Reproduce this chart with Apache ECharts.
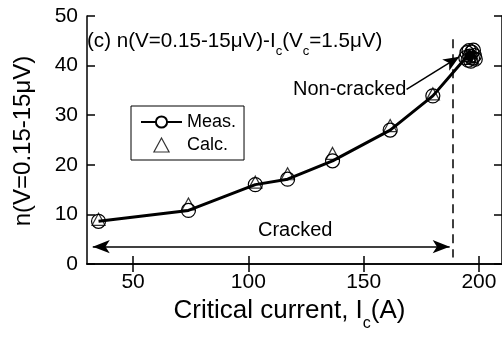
<!DOCTYPE html>
<html>
<head>
<meta charset="utf-8">
<script src="https://cdn.jsdelivr.net/npm/echarts@6/dist/echarts.min.js"></script>
<style>
  html, body { margin: 0; padding: 0; background: #fff; }
  #chart { width: 502px; height: 338px; }
</style>
</head>
<body>
<div id="chart"></div>
<script>
// Measured n-value vs critical current (circles + line)
const measCurrent = [35, 74, 103, 117, 136.5, 161.5, 180, 194.3, 194.8, 195.3, 195.7, 196.1, 196.5, 196.9, 197.2, 197.6, 198.0, 198.4];
const measN       = [8.6, 10.8, 16.0, 17.1, 20.8, 27.0, 33.9, 41.6, 42.6, 41.1, 43.0, 41.9, 40.9, 42.7, 41.5, 43.1, 42.0, 41.3];
// Calculated n-values (triangles)
const calcCurrent = [35, 74, 103, 117, 136.5, 161.5, 180, 195.8, 197.2];
const calcN       = [9.0, 12.1, 16.5, 18.2, 22.3, 27.9, 34.3, 42.0, 41.5];
// Axis ticks
const xTickValues = [50, 100, 150, 200];
const yTickValues = [0, 10, 20, 30, 40, 50];
// Annotation geometry in data units
const crackedArrow = [[32.5, 3.5], [187.3, 3.5]];
const nonCrackedArrow = [[168.6, 35.2], [191.5, 41.8]];
const boundary = [[188.5, 45.3], [188.5, 1.3]];

const FONT = '"Liberation Sans", Arial, Helvetica, sans-serif';
const pairs = (xs, ys) => xs.map((x, i) => [x, ys[i]]);

const chart = echarts.init(document.getElementById('chart'), null, { renderer: 'canvas' });

const axisCommon = {
  type: 'value',
  axisLine: { show: true, lineStyle: { color: '#000', width: 1.5 } },
  axisTick: { show: true, inside: true, length: 8, lineStyle: { color: '#000', width: 1.5 } },
  splitLine: { show: false },
};

chart.setOption({
  animation: false,
  backgroundColor: '#fff',
  textStyle: { fontFamily: FONT, color: '#000' },
  grid: { left: 87, top: 16, right: -1, bottom: 74, containLabel: false },
  title: {
    left: 87, top: 30, padding: 0,
    text: '{a|(c) n(V=0.15-15μV)-I}{s|c}{a|(V}{s|c}{a|=1.5μV)}',
    textStyle: {
      fontWeight: 'normal',
      rich: {
        a: { fontFamily: FONT, fontSize: 20.6, fontWeight: 'normal', color: '#000', verticalAlign: 'bottom', lineHeight: 22 },
        s: { fontFamily: FONT, fontSize: 13, fontWeight: 'normal', color: '#000', verticalAlign: 'bottom', lineHeight: 22, padding: [0, 0, -6, 0] }
      }
    }
  },
  legend: {
    orient: 'vertical',
    left: 131, top: 106,
    borderColor: '#000', borderWidth: 1, borderRadius: 0,
    padding: [7, 8, 6, 9],
    itemWidth: 41, itemHeight: 14, itemGap: 5,
    symbolKeepAspect: true,
    textStyle: { fontFamily: FONT, fontSize: 18, color: '#000' },
    data: [
      { name: 'Meas.', itemStyle: { color: '#fff' }, lineStyle: { width: 2 } },
      { name: 'Calc.', icon: 'path://M6.5,0L13,12L0,12Z', itemStyle: { color: 'rgba(255,255,255,0)', borderColor: '#000', borderWidth: 1.2 } }
    ]
  },
  xAxis: [
    Object.assign({}, axisCommon, {
      position: 'bottom', min: 30, max: 210,
      axisTick: Object.assign({}, axisCommon.axisTick, { customValues: xTickValues }),
      axisLabel: { customValues: xTickValues, fontFamily: FONT, fontSize: 21, color: '#000', margin: 8 },
      name: '{a|Critical current, I}{s|c}{a|(A)}',
      nameLocation: 'middle', nameGap: 31,
      nameTextStyle: {
        padding: [0, 10, 0, 0],
        rich: {
          a: { fontFamily: FONT, fontSize: 26, color: '#000', verticalAlign: 'bottom', lineHeight: 28 },
          s: { fontFamily: FONT, fontSize: 16, color: '#000', verticalAlign: 'bottom', lineHeight: 28, padding: [0, 0, -8, 0] }
        }
      }
    }),
    Object.assign({}, axisCommon, {
      position: 'top', min: 30, max: 210,
      axisTick: Object.assign({}, axisCommon.axisTick, { customValues: xTickValues }),
      axisLabel: { show: false }
    })
  ],
  yAxis: [
    Object.assign({}, axisCommon, {
      position: 'left', min: 0, max: 50, interval: 10,
      axisLabel: { fontFamily: FONT, fontSize: 21, color: '#000', margin: 9 }
    }),
    Object.assign({}, axisCommon, {
      position: 'right', min: 0, max: 50, interval: 10,
      axisLabel: { show: false }
    })
  ],
  series: [
    {
      name: 'Calc.',
      type: 'scatter',
      symbol: 'triangle',
      symbolSize: [13, 12],
      itemStyle: { color: 'rgba(255,255,255,0)', borderColor: '#000', borderWidth: 1.2 },
      data: pairs(calcCurrent, calcN),
      z: 2
    },
    {
      name: 'Meas.',
      type: 'line',
      symbol: 'circle',
      symbolSize: 14,
      showAllSymbol: true,
      lineStyle: { color: '#000', width: 3 },
      itemStyle: { color: 'rgba(255,255,255,0)', borderColor: '#000', borderWidth: 1.2 },
      data: pairs(measCurrent, measN),
      z: 3,
      markLine: {
        silent: true,
        label: { show: false },
        emphasis: { disabled: true },
        data: [
          [
            { coord: crackedArrow[0], symbol: 'arrow', symbolSize: [10, 17], lineStyle: { color: '#000', width: 1.5, type: 'solid' } },
            { coord: crackedArrow[1], symbol: 'arrow', symbolSize: [10, 17] }
          ],
          [
            { coord: nonCrackedArrow[0], symbol: 'none', lineStyle: { color: '#000', width: 1.5, type: 'solid' } },
            { coord: nonCrackedArrow[1], symbol: 'arrow', symbolSize: [10, 16] }
          ],
          [
            { coord: boundary[0], symbol: 'none', lineStyle: { color: '#000', width: 1.5, type: [9, 6] } },
            { coord: boundary[1], symbol: 'none' }
          ]
        ]
      }
    }
  ],
  graphic: [
    // y-axis title, rotated
    { type: 'text', x: 23, y: 141, rotation: Math.PI / 2,
      style: { text: 'n(V=0.15-15μV)', font: '24px ' + FONT, fill: '#000', align: 'center', verticalAlign: 'middle' } },
    { type: 'text', left: 258, top: 220, style: { text: 'Cracked', font: '20px ' + FONT, fill: '#000' } },
    { type: 'text', left: 293, top: 79, style: { text: 'Non-cracked', font: '20px ' + FONT, fill: '#000' } }
  ]
});
</script>
</body>
</html>
